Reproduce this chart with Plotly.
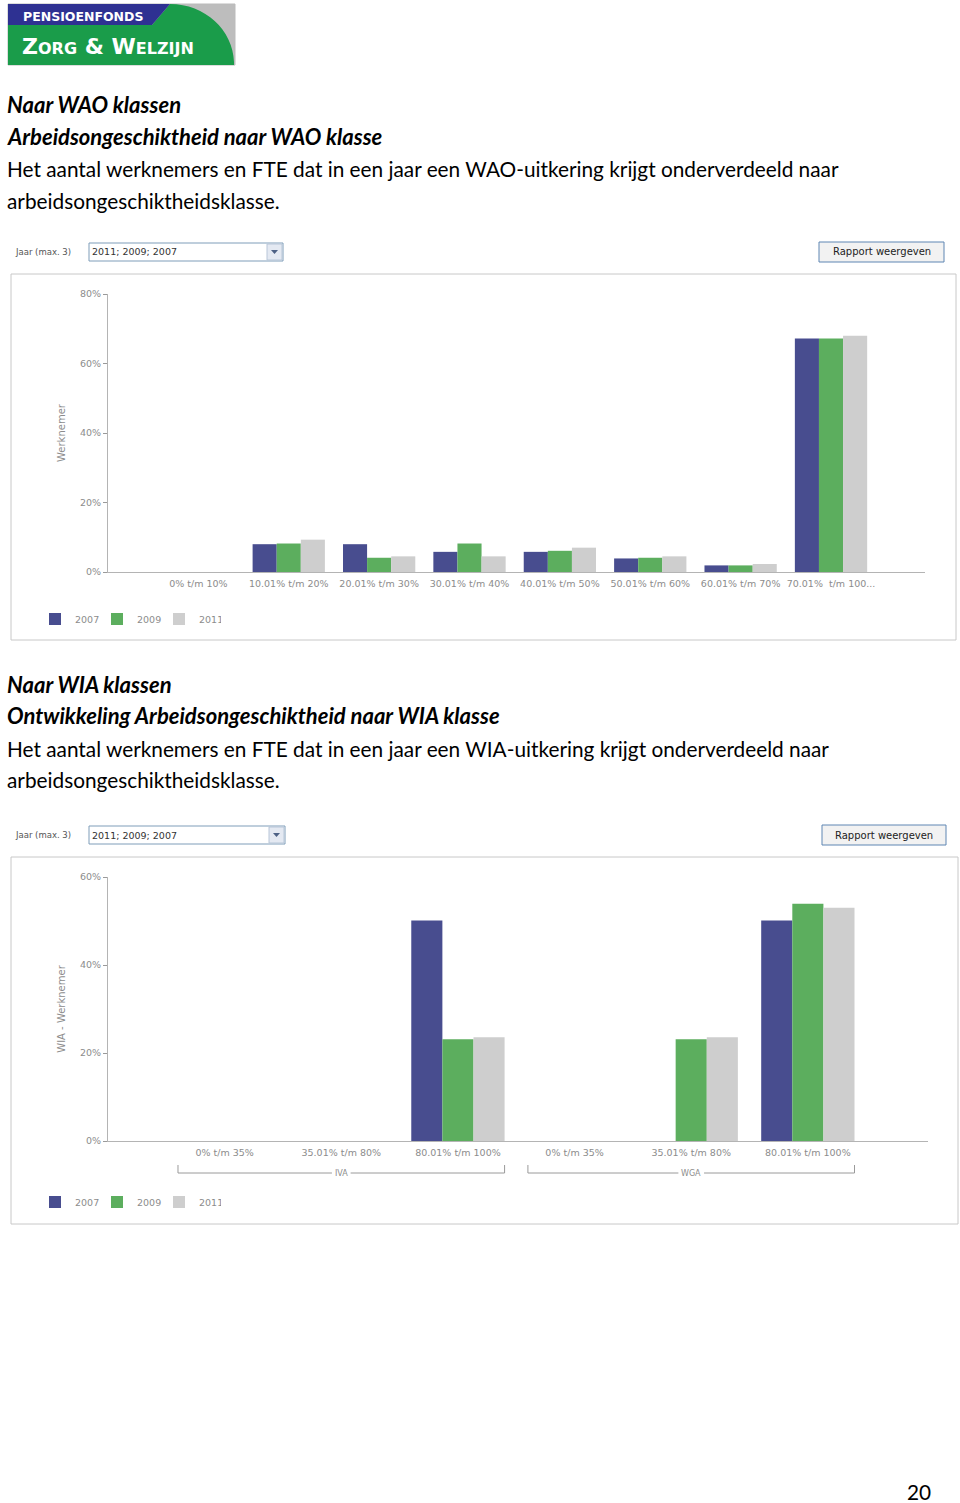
import plotly.graph_objects as go

W, H = 960, 1503

# ---------------- data ----------------
wao_classes = ["0% t/m 10%", "10.01% t/m 20%", "20.01% t/m 30%", "30.01% t/m 40%",
               "40.01% t/m 50%", "50.01% t/m 60%", "60.01% t/m 70%", "70.01%  t/m 100..."]
wao_2007 = [0, 8.0, 8.0, 5.8, 5.8, 3.9, 1.9, 67.2]
wao_2009 = [0, 8.2, 4.1, 8.2, 6.1, 4.1, 1.9, 67.2]
wao_2011 = [0, 9.3, 4.5, 4.5, 7.0, 4.5, 2.3, 68.0]

wia_groups = ["IVA", "IVA", "IVA", "WGA", "WGA", "WGA"]
wia_classes = ["0% t/m 35%", "35.01% t/m 80%", "80.01% t/m 100%",
               "0% t/m 35%", "35.01% t/m 80%", "80.01% t/m 100%"]
wia_2007 = [0, 0, 50.1, 0, 0, 50.1]
wia_2009 = [0, 0, 23.1, 0, 23.1, 53.9]
wia_2011 = [0, 0, 23.6, 0, 23.6, 53.0]

years = ["2007", "2009", "2011"]
colors = ["#484d8f", "#5cae5e", "#cecece"]

wao_ticks = [0, 20, 40, 60, 80]
wia_ticks = [0, 20, 40, 60]


def px(x):
    return x / W


def py(y):
    return 1 - y / H


fig = go.Figure()

for yr, col, vals in zip(years, colors, [wao_2007, wao_2009, wao_2011]):
    fig.add_trace(go.Bar(x=wao_classes, y=vals, name=yr, marker_color=col,
                         marker_line_width=0, xaxis="x", yaxis="y",
                         legend="legend"))

wia_idx = list(range(len(wia_classes)))
for yr, col, vals in zip(years, colors, [wia_2007, wia_2009, wia_2011]):
    fig.add_trace(go.Bar(x=wia_idx, y=vals, name=yr, marker_color=col,
                         marker_line_width=0, xaxis="x2", yaxis="y2",
                         legend="legend2",
                         customdata=wia_groups))

tick_font = dict(family="DejaVu Sans", size=9.5, color="#8c8c8c")
axis_common = dict(showgrid=False, zeroline=False, showline=True,
                   linecolor="#b4b4b4", linewidth=1, tickfont=tick_font,
                   fixedrange=True, automargin=False)

shapes = []
annotations = []


def rect(x0, y0, x1, y1, line="#c8c8c8", fill="rgba(0,0,0,0)", lw=1):
    shapes.append(dict(type="rect", xref="paper", yref="paper",
                       x0=px(x0), x1=px(x1), y0=py(y1), y1=py(y0),
                       line=dict(color=line, width=lw), fillcolor=fill,
                       layer="below"))


def path(points, fill):
    d = ""
    for i, p in enumerate(points):
        if p[0] == "C":
            d += " C %f,%f %f,%f %f,%f" % (px(p[1]), py(p[2]), px(p[3]), py(p[4]),
                                           px(p[5]), py(p[6]))
        else:
            d += (" M" if i == 0 else " L") + " %f,%f" % (px(p[0]), py(p[1]))
    d += " Z"
    shapes.append(dict(type="path", xref="paper", yref="paper", path=d,
                       fillcolor=fill, line=dict(width=0), layer="below"))


def text(x, y, s, size, color="#000", family="Lato", anchor="left", **kw):
    annotations.append(dict(x=px(x), y=py(y), xref="paper", yref="paper",
                            text=s, showarrow=False, xanchor=anchor,
                            yanchor="middle",
                            font=dict(family=family, size=size, color=color), **kw))


# ---------------- logo ----------------
rect(8, 4, 235, 65, line="#bbbbbb", fill="#bdbdbd")
path([(8, 25), (152, 25), (170, 4), ("C", 205, 4, 233, 30, 234, 62), (234, 65), (8, 65)],
     "#1a9c4a")
path([(8, 4), (170, 4), (152, 25), (8, 25)], "#2e3192")
text(21, 17, "<b>PENSIOENFONDS</b>", 12.5, color="#ffffff", family="DejaVu Sans")
text(20, 46, "<b>Z<span style='font-size:16px'>ORG</span> &amp; "
             "W<span style='font-size:16px'>ELZIJN</span></b>", 22,
     color="#ffffff", family="DejaVu Sans")

# ---------------- text blocks ----------------
HS, BS = 22, 20.8
TX = 5
text(TX, 105, "<b><i>Naar WAO klassen</i></b>", HS)
text(TX, 137, "<b><i>Arbeidsongeschiktheid naar WAO klasse</i></b>", HS)
text(TX, 169, "Het aantal werknemers en FTE dat in een jaar een WAO-uitkering krijgt onderverdeeld naar", BS)
text(TX, 201, "arbeidsongeschiktheidsklasse.", BS)

text(TX, 684, "<b><i>Naar WIA klassen</i></b>", HS)
text(TX, 716, "<b><i>Ontwikkeling Arbeidsongeschiktheid naar WIA klasse</i></b>", HS)
text(TX, 748, "Het aantal werknemers en FTE dat in een jaar een WIA-uitkering krijgt onderverdeeld naar", BS)
text(TX, 779, "arbeidsongeschiktheidsklasse.", BS)

text(933, 1491, "20", BS, anchor="right")


# ---------------- report control bars ----------------
def control_bar(ytop, bx0, bx1, btn_x0, btn_x1):
    text(13, ytop + 9, "Jaar (max. 3)", 8.5, color="#555555", family="DejaVu Sans")
    rect(bx0, ytop, bx1, ytop + 18, line="#7f9db9", fill="#ffffff")
    text(bx0 + 1, ytop + 9, "2011; 2009; 2007", 9.5, color="#333333", family="DejaVu Sans")
    rect(bx1 - 16, ytop + 1, bx1 - 1, ytop + 17, line="#b8c6d8", fill="#e4e9f2")
    path([(bx1 - 12, ytop + 7), (bx1 - 5, ytop + 7), (bx1 - 8.5, ytop + 11)], "#4d6185")
    rect(btn_x0, ytop - 1, btn_x1, ytop + 19, line="#5f86b3", fill="#f2f2f2")
    text((btn_x0 + btn_x1) / 2, ytop + 9, "Rapport weergeven", 10, color="#222222",
         family="DejaVu Sans", anchor="center")


control_bar(243, 89, 283, 819, 944)
control_bar(826, 89, 285, 822, 946)

# ---------------- chart frames ----------------
rect(11, 274, 956, 640)
rect(11, 857, 958, 1224)

# ---------------- WIA group brackets ----------------
bracket_y0, bracket_y1 = 1165, 1173
for g0, g1, gc, half in [(-0.4, 2.4, 1.0, 0.08), (2.6, 5.4, 4.0, 0.11)]:
    for xa, xb in [(g0, gc - half), (gc + half, g1)]:
        shapes.append(dict(type="line", xref="x2", yref="paper", x0=xa, x1=xb,
                           y0=py(bracket_y1), y1=py(bracket_y1),
                           line=dict(color="#9a9a9a", width=1)))
    for xv in (g0, g1):
        shapes.append(dict(type="line", xref="x2", yref="paper", x0=xv, x1=xv,
                           y0=py(bracket_y0), y1=py(bracket_y1),
                           line=dict(color="#9a9a9a", width=1)))
for gname, gc in [("IVA", 1.0), ("WGA", 4.0)]:
    annotations.append(dict(x=gc, y=py(1173), xref="x2", yref="paper", text=gname,
                            showarrow=False, xanchor="center", yanchor="middle",
                            font=dict(family="DejaVu Sans", size=8, color="#8c8c8c")))

legend_common = dict(orientation="h", xanchor="left", yanchor="middle",
                     font=dict(family="DejaVu Sans", size=9.5, color="#8c8c8c"),
                     bgcolor="rgba(0,0,0,0)", itemwidth=30,
                     entrywidth=17, entrywidthmode="pixels", traceorder="normal")

title_font = dict(family="DejaVu Sans", size=10, color="#8c8c8c")

fig.update_layout(
    width=W, height=H, autosize=False,
    margin=dict(l=0, r=0, t=0, b=0, pad=0, autoexpand=False),
    paper_bgcolor="#ffffff", plot_bgcolor="#ffffff",
    barmode="group", bargap=0.2, bargroupgap=0,
    xaxis=dict(domain=[px(108), px(925)], anchor="y", range=[-1.0, 8.04],
               ticks="", ticklabelstandoff=3, **axis_common),
    yaxis=dict(domain=[py(572), py(294)], anchor="x", range=[0, 80],
               tickvals=wao_ticks, ticktext=[f"{v}%" for v in wao_ticks],
               ticks="outside", ticklen=4, tickcolor="#9a9a9a",
               title=dict(text="Werknemer", standoff=12, font=title_font),
               **axis_common),
    xaxis2=dict(domain=[px(108), px(928)], anchor="y2", range=[-1.0, 6.03],
                tickvals=wia_idx, ticktext=wia_classes, ticks="",
                ticklabelstandoff=3, **axis_common),
    yaxis2=dict(domain=[py(1141), py(877)], anchor="x2", range=[0, 60],
                tickvals=wia_ticks, ticktext=[f"{v}%" for v in wia_ticks],
                ticks="outside", ticklen=4, tickcolor="#9a9a9a",
                title=dict(text="WIA - Werknemer", standoff=12, font=title_font),
                **axis_common),
    legend=dict(x=px(35), y=py(619), **legend_common),
    legend2=dict(x=px(35), y=py(1202), **legend_common),
    shapes=shapes,
    annotations=annotations,
    showlegend=True,
)

fig.write_html("out.html",
               config={"displayModeBar": False},
               post_script="document.body.style.margin='0';"
                           "document.body.style.padding='0';"
                           "document.body.style.overflow='hidden';")
